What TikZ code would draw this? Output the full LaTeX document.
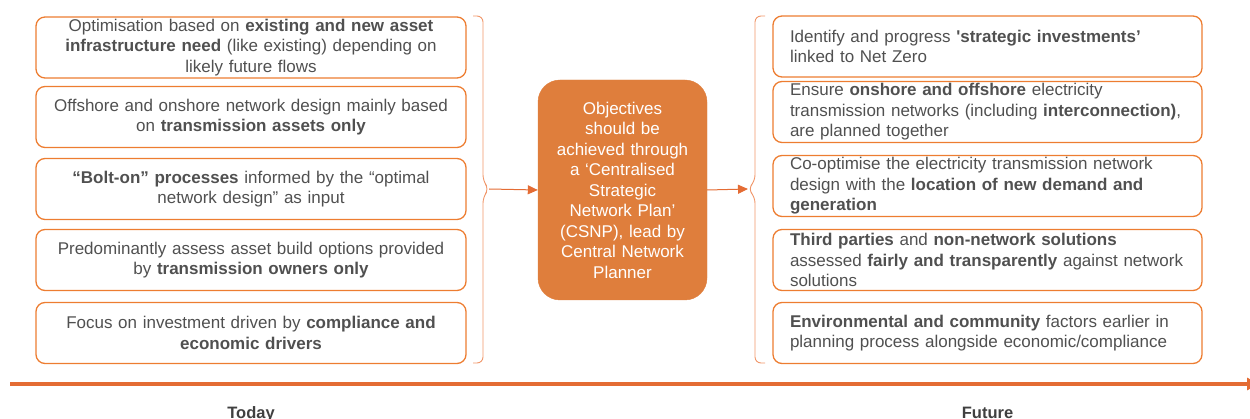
\documentclass[tikz,border=0pt]{standalone}
\usepackage{fontspec}
\setmainfont{Liberation Sans}[Ligatures=TeXOff]
\usetikzlibrary{arrows.meta}

\definecolor{ngOrange}{RGB}{237,125,49}
\definecolor{ngFill}{RGB}{223,126,60}
\definecolor{ngLine}{RGB}{228,108,52}
\definecolor{ngBrace}{RGB}{240,150,105}
\definecolor{ngText}{RGB}{80,80,80}
\definecolor{ngLabel}{RGB}{64,64,64}

\begin{document}
\begin{tikzpicture}[x=1pt,y=-1pt,
  every node/.style={font=\fontsize{17}{20.5}\selectfont, text=ngText},
  todaybox/.style={draw=ngOrange, line width=1.3pt, rounded corners=9pt,
    minimum width=430pt, minimum height=61pt, text width=412pt,
    inner xsep=9pt, inner ysep=0pt, align=center},
  futurebox/.style={draw=ngOrange, line width=1.3pt, rounded corners=9pt,
    minimum width=429pt, minimum height=61pt, text width=395pt,
    inner xsep=17pt, inner ysep=0pt, align=left},
  planbox/.style={draw=ngFill, fill=ngFill, rounded corners=22pt,
    minimum width=169pt, minimum height=220pt, text width=165pt,
    inner sep=0pt, align=center, text=white},
  bracket/.style={draw=ngBrace, line width=0.9pt, rounded corners=6pt},
  flow/.style={draw=ngLine, line width=1pt, -{Triangle[length=10pt,width=9pt]}},
  timeline/.style={draw=ngLine, line width=4pt, -{Triangle[length=12pt,width=12pt]}},
  period/.style={anchor=base, text=ngLabel, font=\bfseries\fontsize{16.5}{20}\selectfont}
]
\useasboundingbox (0,0) rectangle (1250,419);

% today: current practice
\node[todaybox] (t1) at (251,47.5) {Optimisation based on \textbf{existing and new asset}\\
  \textbf{infrastructure need} (like existing) depending on\\ likely future flows};
\node[todaybox] (t2) at (251,117) {Offshore and onshore network design mainly based\\
  on \textbf{transmission assets only}};
\node[todaybox] (t3) at (251,189) {\textbf{“Bolt-on” processes} informed by the “optimal\\
  network design” as input};
\node[todaybox] (t4) at (251,260) {Predominantly assess asset build options provided\\
  by \textbf{transmission owners only}};
\node[todaybox] (t5) at (251,333) {Focus on investment driven by \textbf{compliance and}\\
  \textbf{economic drivers}};

% central plan
\node[planbox] (plan) at (622.5,190) {Objectives\\ should be\\ achieved through\\
  a ‘Centralised\\ Strategic\\ Network Plan’\\ (CSNP), lead by\\ Central Network\\ Planner};

% future: target practice
\node[futurebox] (f1) at (987.5,46.5) {Identify and progress \textbf{'strategic investments’}\\
  linked to Net Zero};
\node[futurebox] (f2) at (987.5,112) {Ensure \textbf{onshore and offshore} electricity\\
  transmission networks (including \textbf{interconnection)},\\ are planned together};
\node[futurebox] (f3) at (987.5,186) {Co-optimise the electricity transmission network\\
  design with the \textbf{location of new demand and}\\ \textbf{generation}};
\node[futurebox] (f4) at (987.5,260) {\textbf{Third parties} and \textbf{non-network solutions}\\
  assessed \textbf{fairly and transparently} against network\\ solutions};
\node[futurebox] (f5) at (987.5,333) {\textbf{Environmental and community} factors earlier in\\
  planning process alongside economic/compliance};

% brackets gathering each column
\coordinate (lbtip) at (489,189);
\coordinate (rbtip) at (748,189);
\draw[bracket] (473,16) -| (483,181) -- (lbtip) -- (483,197) |- (473,363);
\draw[bracket] (765,16) -| (755,181) -- (rbtip) -- (755,197) |- (765,363);

% flow through the plan
\draw[flow] (lbtip) -- (plan.west);
\draw[flow] (plan.east) -- (rbtip);

% time axis
\coordinate (tstart) at (10,384);
\coordinate (tend) at (1259,384);
\draw[timeline] (tstart) -- (tend);
\node[period] (today) at (251,418) {Today};
\node[period] (future) at (987.5,418) {Future};
\end{tikzpicture}
\end{document}
